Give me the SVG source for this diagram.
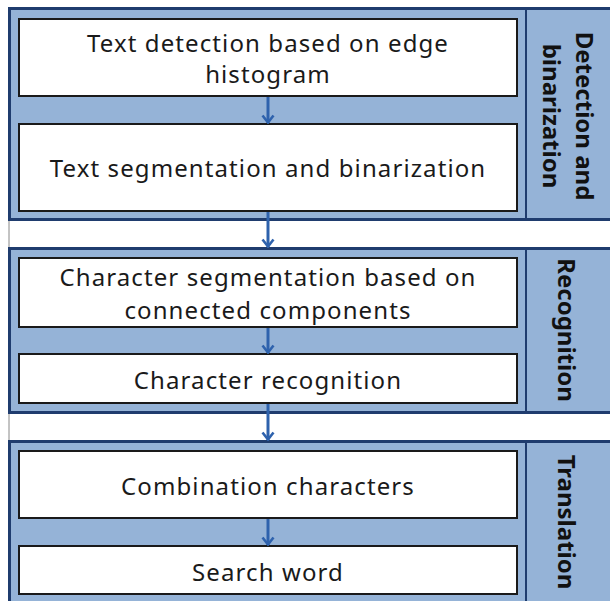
<svg xmlns="http://www.w3.org/2000/svg" width="610" height="601" viewBox="0 0 610 601">
<style>
.grp{fill:#95b3d7;stroke:#1f3c6e;stroke-width:3}
.div{stroke:#1f3c6e;stroke-width:2}
.box{fill:#ffffff;stroke:#1a1a1a;stroke-width:2}
.t{font-family:"Noto Sans",sans-serif;font-size:24px;letter-spacing:1.1px;fill:#1a1a1a;text-anchor:middle}
.s{font-family:"Noto Sans",sans-serif;font-size:24px;font-weight:bold;fill:#111111;text-anchor:middle}
.arr{stroke:#2e62ad;stroke-width:3;fill:none}
</style>
<defs>
<marker id="ah" viewBox="0 0 14 10" refX="7" refY="9" markerWidth="14" markerHeight="10" orient="0" markerUnits="userSpaceOnUse">
<path d="M1.5,1.5 L7,8.5 L12.5,1.5" fill="none" stroke="#2e62ad" stroke-width="2.6"/>
</marker>
</defs>
<rect x="0" y="0" width="610" height="601" fill="#ffffff"/>
<line x1="9" y1="8" x2="9" y2="601" stroke="#888888" stroke-width="1"/>
<g id="group1">
<rect class="grp" x="9.5" y="8.5" width="610" height="211"/>
<line class="div" x1="526" y1="8" x2="526" y2="220"/>
<text class="s" transform="translate(584,116) rotate(90)" dy="8">Detection and</text>
<text class="s" transform="translate(551,116) rotate(90)" dy="8">binarization</text>
</g>
<g id="group2">
<rect class="grp" x="9.5" y="248.5" width="610" height="164"/>
<line class="div" x1="526" y1="248" x2="526" y2="413"/>
<text class="s" transform="translate(566,330) rotate(90)" dy="8">Recognition</text>
</g>
<g id="group3">
<rect class="grp" x="9.5" y="441.5" width="610" height="170"/>
<line class="div" x1="526" y1="441" x2="526" y2="601"/>
<text class="s" transform="translate(566,522) rotate(90)" dy="8">Translation</text>
</g>
<g id="box1">
<rect class="box" x="19" y="19" width="498" height="77"/>
<text class="t" x="268" y="52">Text detection based on edge</text>
<text class="t" x="268" y="83">histogram</text>
</g>
<g id="box2">
<rect class="box" x="19" y="124" width="498" height="87"/>
<text class="t" x="268" y="177">Text segmentation and binarization</text>
</g>
<g id="box3">
<rect class="box" x="19" y="258" width="498" height="69"/>
<text class="t" x="268" y="286">Character segmentation based on</text>
<text class="t" x="268" y="319">connected components</text>
</g>
<g id="box4">
<rect class="box" x="19" y="354" width="498" height="49"/>
<text class="t" x="268" y="389">Character recognition</text>
</g>
<g id="box5">
<rect class="box" x="19" y="451" width="498" height="67"/>
<text class="t" x="268" y="495">Combination characters</text>
</g>
<g id="box6">
<rect class="box" x="19" y="546" width="498" height="48"/>
<text class="t" x="268" y="581">Search word</text>
</g>
<g id="connectors">
<line class="arr" x1="268" y1="97" x2="268" y2="123" marker-end="url(#ah)"/>
<line class="arr" x1="268" y1="212" x2="268" y2="247" marker-end="url(#ah)"/>
<line class="arr" x1="268" y1="328" x2="268" y2="353" marker-end="url(#ah)"/>
<line class="arr" x1="268" y1="404" x2="268" y2="440" marker-end="url(#ah)"/>
<line class="arr" x1="268" y1="519" x2="268" y2="545" marker-end="url(#ah)"/>
</g>
</svg>
